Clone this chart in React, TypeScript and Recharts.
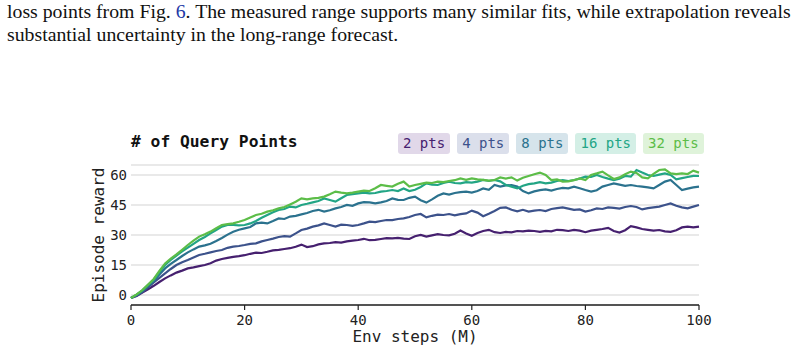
import React from 'react';
import { LineChart, Line, XAxis, YAxis, CartesianGrid } from 'recharts';

// env steps in millions, one sample per step
const steps = Array.from({ length: 101 }, (_, i) => i);

// mean episode reward per query-point budget
const reward2 = [
  -1.5, -0.5, 1.2, 2.8, 4.6, 6.5, 8.3, 9.8, 11.2, 12.2,
  13.3, 13.8, 14.4, 15.0, 15.9, 17.2, 18.0, 18.6, 19.1, 19.4,
  19.9, 20.6, 21.2, 21.0, 21.6, 22.3, 22.6, 23.0, 23.4, 24.1,
  25.2, 24.0, 24.4, 25.3, 25.8, 26.0, 26.4, 26.2, 26.8, 27.2,
  27.5, 28.1, 27.4, 27.6, 28.0, 28.4, 28.3, 28.6, 28.2, 28.0,
  29.4, 30.0, 29.2, 29.8, 30.4, 30.0, 29.8, 30.6, 32.2, 30.8,
  29.6, 31.0, 32.0, 32.6, 31.4, 31.0, 31.6, 31.3, 32.0, 31.8,
  32.2, 32.0, 31.6, 32.1, 31.8, 32.6, 32.4, 32.0, 32.6, 32.2,
  31.4, 32.2, 32.6, 33.0, 33.6, 32.0, 31.2, 32.4, 34.4, 33.8,
  33.0, 32.6, 32.2, 32.5, 31.8, 31.6, 32.4, 33.8, 34.2, 33.8,
  34.2,
];

const reward4 = [
  -1.5, -0.3, 1.5, 3.8, 6.3, 8.6, 10.8, 13.0, 15.0, 16.4,
  17.5, 18.8, 20.0, 20.6, 21.3, 22.0, 22.5, 23.6, 24.2, 24.5,
  25.0, 25.6, 25.8, 26.8, 27.5, 28.2, 29.0, 29.4, 29.2, 30.8,
  32.5, 33.2, 34.2, 34.8, 35.8, 35.0, 34.2, 35.2, 35.0, 34.6,
  35.0, 35.8, 36.7, 36.4, 37.0, 37.5, 37.4, 38.0, 38.3, 39.0,
  40.0, 40.5, 38.8, 39.6, 40.2, 40.0, 40.5, 39.8, 40.4, 40.8,
  42.2, 41.2, 39.4, 40.6, 42.0, 43.6, 43.8, 42.6, 41.8, 42.6,
  41.7, 42.2, 42.5, 42.0, 43.0, 43.4, 43.8, 43.2, 42.6, 42.8,
  41.7, 42.4, 43.3, 43.0, 43.8, 43.6, 43.2, 44.0, 44.5, 44.0,
  42.8, 43.4, 43.8, 44.2, 45.0, 45.8, 44.6, 43.8, 43.3, 44.2,
  45.0,
];

const reward8 = [
  -1.5, 0.0, 2.0, 4.5, 7.0, 10.2, 13.3, 15.6, 17.5, 19.5,
  21.3, 22.8, 24.2, 24.8, 25.6, 27.0, 28.5, 30.2, 31.6, 32.6,
  33.3, 34.0, 35.8, 36.2, 35.8, 37.0, 38.3, 38.0, 39.2, 39.6,
  40.3, 41.0, 42.0, 42.6, 41.7, 42.4, 43.3, 44.0, 45.0, 44.6,
  45.8, 46.4, 46.3, 45.8, 46.3, 47.0, 48.3, 47.6, 47.5, 48.6,
  49.2, 47.4, 46.2, 47.8, 49.6, 50.8, 50.2, 51.0, 51.4, 51.7,
  51.2, 52.0, 53.3, 52.6, 55.0, 54.2, 54.8, 55.0, 54.2, 52.0,
  50.8, 51.8, 52.4, 52.8, 52.2, 53.0, 53.6, 53.3, 54.2, 53.4,
  52.5, 51.7, 52.4, 54.2, 55.0, 55.8, 55.2, 54.6, 55.0, 54.5,
  54.2, 53.8, 53.3, 55.0, 56.7, 57.5, 55.0, 52.5, 53.2, 53.8,
  54.2,
];

const reward16 = [
  -1.5, 0.2, 2.3, 5.0, 7.5, 11.5, 15.0, 17.5, 19.7, 21.8,
  23.7, 25.6, 27.5, 29.0, 30.8, 32.5, 34.2, 35.0, 35.0, 34.8,
  35.0, 35.8, 37.0, 38.6, 40.0, 41.4, 42.5, 43.0, 44.2, 43.8,
  45.0, 45.6, 46.3, 47.0, 48.3, 47.5, 46.7, 48.4, 50.0, 50.4,
  50.8, 51.2, 50.8, 51.0, 51.7, 52.0, 52.5, 52.0, 53.3, 52.0,
  52.6, 54.0, 55.8, 55.2, 55.0, 56.0, 56.7, 56.0, 55.8, 56.4,
  56.2, 56.7, 57.5, 57.0, 57.5, 56.8, 55.0, 54.2, 53.3, 54.6,
  55.4, 55.8, 56.4, 55.8, 56.2, 57.0, 57.5, 57.0, 57.5, 58.2,
  59.2, 59.0, 60.0, 59.0, 58.2, 57.5, 58.2, 59.5, 59.2, 62.5,
  61.2, 60.0, 59.5, 60.2, 60.8, 60.0, 57.8, 58.4, 59.0, 59.6,
  59.5,
];

const reward32 = [
  -1.5, 0.3, 2.5, 5.2, 8.0, 12.0, 15.8, 18.2, 20.3, 22.6,
  25.0, 27.2, 29.2, 30.4, 31.7, 33.4, 35.0, 35.4, 35.8, 36.6,
  37.5, 38.8, 40.0, 40.6, 41.7, 42.4, 43.3, 44.0, 45.3, 46.6,
  48.3, 47.8, 48.3, 48.6, 49.2, 50.4, 51.7, 51.2, 50.8, 51.2,
  51.7, 52.2, 52.0, 53.4, 55.0, 54.6, 54.2, 55.6, 56.7, 54.2,
  55.0, 55.6, 56.2, 56.0, 56.7, 56.4, 57.0, 57.4, 58.3, 57.6,
  58.3, 57.8, 57.6, 57.2, 57.5, 58.8, 58.2, 58.8, 57.2, 58.6,
  59.5, 60.4, 61.2, 60.0, 57.5, 57.8, 56.7, 56.8, 57.4, 58.3,
  57.5, 60.0, 60.8, 61.7, 59.8, 58.0, 58.8, 60.4, 61.7, 61.0,
  58.8, 58.3, 60.6, 62.5, 62.8, 60.8, 60.4, 60.8, 60.5, 62.2,
  61.2,
];

const xTicks = [0, 20, 40, 60, 80, 100];
const yTicks = [0, 15, 30, 45, 60];

const series = [
  { key: 'r2', label: '2 pts', values: reward2, color: '#46206f', bg: '#e1d8e9' },
  { key: 'r4', label: '4 pts', values: reward4, color: '#3c528b', bg: '#dbdfeb' },
  { key: 'r8', label: '8 pts', values: reward8, color: '#2b728e', bg: '#d6e4eb' },
  { key: 'r16', label: '16 pts', values: reward16, color: '#22a585', bg: '#d4efe6' },
  { key: 'r32', label: '32 pts', values: reward32, color: '#5cbd48', bg: '#dff3da' },
];

const data = steps.map((step, i) => {
  const row: Record<string, number> = { step };
  series.forEach((s) => {
    row[s.key] = s.values[i];
  });
  return row;
});

const mono = '"DejaVu Sans Mono", monospace';

export default function App() {
  return (
    <div style={{ position: 'absolute', left: 0, top: 0, width: 804, height: 353, background: '#fff', overflow: 'hidden' }}>
      {/* caption text above the figure */}
      <div
        style={{
          position: 'absolute',
          left: 7,
          top: 0,
          fontFamily: '"Liberation Serif", serif',
          fontSize: 19.8,
          lineHeight: '22.5px',
          color: '#111',
          whiteSpace: 'nowrap',
        }}
      >
        <div>
          loss points from Fig. <span style={{ color: '#2238a6' }}>6</span>. The measured range supports many similar fits, while extrapolation reveals
        </div>
        <div>substantial uncertainty in the long-range forecast.</div>
      </div>

      <div
        style={{
          position: 'absolute',
          left: 131,
          top: 132,
          fontFamily: mono,
          fontWeight: 'bold',
          fontSize: 16.3,
          lineHeight: '20px',
          color: '#111',
        }}
      >
        # of Query Points
      </div>

      <div style={{ position: 'absolute', left: 398, top: 133, display: 'flex', gap: 7 }}>
        {series.map((s) => (
          <div
            key={s.key}
            style={{
              background: s.bg,
              color: s.color,
              fontFamily: mono,
              fontSize: 14,
              height: 21,
              lineHeight: '21px',
              padding: '0 5px',
              borderRadius: 3,
            }}
          >
            {s.label}
          </div>
        ))}
      </div>

      <div style={{ position: 'absolute', left: 0, top: 0 }}>
        <LineChart width={804} height={353} data={data} margin={{ top: 165, right: 105, bottom: 8, left: 65 }}>
          <CartesianGrid vertical={false} stroke="#e2e2e2" strokeWidth={1.4} />
          <XAxis
            dataKey="step"
            type="number"
            domain={[0, 100]}
            ticks={xTicks}
            height={40}
            tickSize={5}
            tickMargin={5}
            axisLine={{ stroke: '#222', strokeWidth: 1.5 }}
            tickLine={{ stroke: '#222', strokeWidth: 1.2 }}
            tick={{ fill: '#222', fontSize: 14, fontFamily: mono }}
            label={{ value: 'Env steps (M)', position: 'insideBottom', offset: 3, fill: '#222', fontSize: 16, fontFamily: mono }}
          />
          <YAxis
            type="number"
            domain={[-5, 65]}
            ticks={yTicks}
            width={66}
            axisLine={false}
            tickLine={false}
            tickSize={0}
            tickMargin={4}
            tick={{ fill: '#222', fontSize: 14, fontFamily: mono }}
            label={{ value: 'Episode reward', angle: -90, position: 'center', fill: '#222', fontSize: 16, fontFamily: mono }}
          />
          {series.map((s) => (
            <Line
              key={s.key}
              dataKey={s.key}
              type="linear"
              stroke={s.color}
              strokeWidth={2.2}
              dot={false}
              isAnimationActive={false}
            />
          ))}
        </LineChart>
      </div>
    </div>
  );
}
